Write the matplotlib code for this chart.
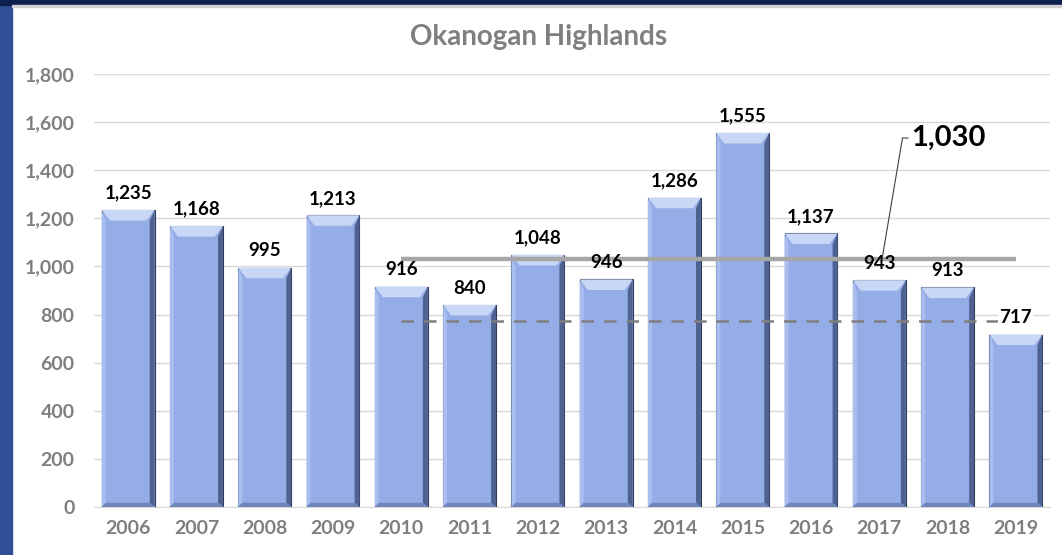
import numpy as np
import matplotlib
matplotlib.use('Agg')
from matplotlib import pyplot as plt
from matplotlib.patches import Rectangle, Polygon

plt.rcParams['font.family'] = ['Lato', 'DejaVu Sans']

# data
years = ['2006', '2007', '2008', '2009', '2010', '2011', '2012',
         '2013', '2014', '2015', '2016', '2017', '2018', '2019']
counts = [1235, 1168, 995, 1213, 916, 840, 1048, 946, 1286, 1555, 1137, 943, 913, 717]
avg_value = 1030      # 10-year average 2010-2019
dash_value = 773      # dashed reference line
line_start = '2010'
y_ticks = [0, 200, 400, 600, 800, 1000, 1200, 1400, 1600, 1800]

fig = plt.figure(figsize=(10.62, 5.55), dpi=100, facecolor='white')

# blue frame on left and top
fig.patches.append(Rectangle((0, 0), 12 / 1062, 1, transform=fig.transFigure,
                             color='#2f4f96', zorder=0))
fig.patches.append(Rectangle((0, 1 - 5 / 555), 1, 5 / 555, transform=fig.transFigure,
                             color='#0d1f4f', zorder=0))
fig.patches.append(Rectangle((12 / 1062, 1 - 7 / 555), 1, 2 / 555, transform=fig.transFigure,
                             color='#d0d0d0', zorder=0))

ax = fig.add_axes([94 / 1062, 1 - 507 / 555, 956 / 1062, 433 / 555])
ax.set_facecolor('white')

x = np.arange(len(years))
width = 0.776
bars = ax.bar(x, counts, width=width, color='#94ade7', edgecolor='#2e3b57',
              linewidth=0.8, zorder=3)

# bevel facets
bx = 0.12
by = 44
for xi, h in zip(x, counts):
    x0 = xi - width / 2
    x1 = xi + width / 2
    top = Polygon([(x0, h), (x1, h), (x1 - bx, h - by), (x0 + bx, h - by)],
                  closed=True, facecolor='#c9d7f6', edgecolor='none', zorder=4)
    right = Polygon([(x1, h), (x1, 0), (x1 - bx * 0.6, by * 0.4), (x1 - bx * 0.6, h - by)],
                    closed=True, facecolor='#4f6190', edgecolor='none', zorder=4)
    left = Polygon([(x0, h), (x0, 0), (x0 + bx * 0.5, by * 0.4), (x0 + bx * 0.5, h - by)],
                   closed=True, facecolor='#a9bdee', edgecolor='none', zorder=4)
    bottom = Polygon([(x0, 0), (x1, 0), (x1 - bx * 0.6, by * 0.4), (x0 + bx * 0.5, by * 0.4)],
                     closed=True, facecolor='#6f86bd', edgecolor='none', zorder=4)
    for p in (top, right, left, bottom):
        ax.add_patch(p)

# value labels
for xi, h in zip(x, counts):
    lab = ax.text(xi, h + 35, f'{h:,}', ha='center', va='bottom', fontsize=13.5,
                  fontweight='bold', color='black', zorder=6)
    if xi == len(years) - 1:
        lab.set_bbox(dict(facecolor='white', edgecolor='none', pad=1))

# average and dashed lines
i0 = years.index(line_start)
ax.plot([x[i0], x[-1]], [avg_value, avg_value], color='#a6a6a6', lw=3.2,
        solid_capstyle='butt', zorder=5)
ax.plot([x[i0], x[-1]], [dash_value, dash_value], color='#7f7f7f', lw=1.8,
        dashes=(5, 4), zorder=5)

# leader + average label
ax.plot([11.04, 11.34, 11.42], [avg_value, 1534, 1534], color='#404040', lw=0.8, zorder=6)
ax.text(11.46, 1534, f'{avg_value:,}', ha='left', va='center', fontsize=21,
        fontweight='bold', color='black', zorder=6)

ax.set_xlim(-0.5, len(years) - 0.5)
ax.set_ylim(0, 1800)
ax.set_yticks(y_ticks)
ax.set_yticklabels([f'{v:,}' for v in y_ticks])
ax.set_xticks(x)
ax.set_xticklabels(years)
ax.tick_params(axis='both', length=0, labelsize=14, colors='#7f7f7f')
ax.tick_params(axis='y', pad=14)
ax.tick_params(axis='x', pad=9)
for lbl in ax.get_xticklabels() + ax.get_yticklabels():
    lbl.set_fontweight('bold')
ax.grid(axis='y', color='#d9d9d9', lw=1, zorder=0)
ax.set_axisbelow(True)
for s in ['top', 'right', 'left']:
    ax.spines[s].set_visible(False)
ax.spines['bottom'].set_color('#d9d9d9')

fig.text(0.507, 1 - 37 / 555, 'Okanogan Highlands', ha='center', va='center',
         fontsize=20, fontweight='bold', color='#7f7f7f')

fig.savefig('out.png', dpi=100, facecolor=fig.get_facecolor())
